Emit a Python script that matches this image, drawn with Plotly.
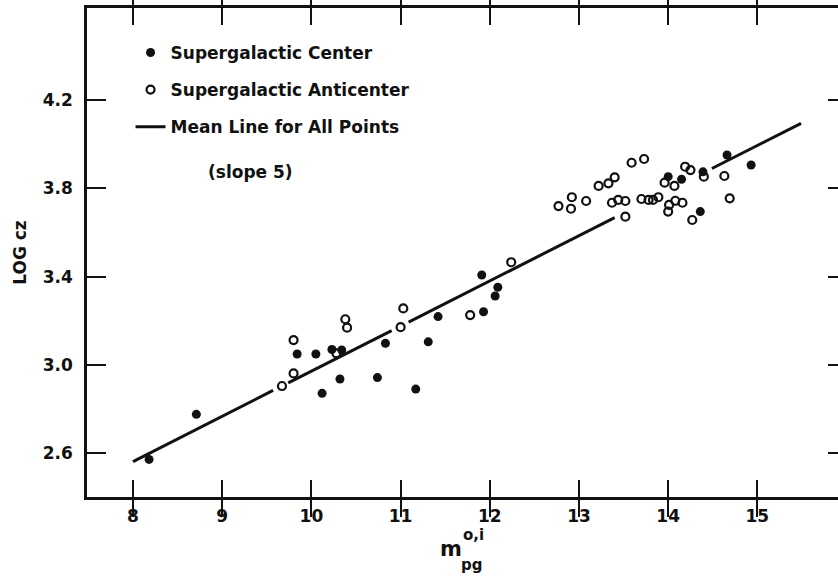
import plotly.graph_objects as go

# Supergalactic Center (filled)
center_m = [8.18, 8.71, 9.84, 10.05, 10.12, 10.23, 10.34, 10.32, 10.74, 10.83,
            11.17, 11.31, 11.42, 11.93, 11.91, 12.09, 12.06, 14.00, 14.15, 14.36,
            14.39, 14.66, 14.93]
center_logcz = [2.573, 2.777, 3.050, 3.050, 2.872, 3.070, 3.068, 2.937, 2.943, 3.098,
                2.891, 3.105, 3.219, 3.241, 3.407, 3.352, 3.312, 3.852, 3.840, 3.694,
                3.874, 3.950, 3.905]

# Supergalactic Anticenter (open)
anti_m = [9.67, 9.80, 9.80, 10.28, 10.38, 10.40, 11.03, 11.00, 11.78, 12.24,
          12.77, 12.92, 12.91, 13.08, 13.22, 13.33, 13.40, 13.37, 13.44, 13.52,
          13.52, 13.59, 13.73, 13.70, 13.78, 13.83, 13.89, 13.96, 14.07, 14.19,
          14.25, 14.01, 14.00, 14.08, 14.16, 14.27, 14.40, 14.63, 14.69]
anti_logcz = [2.905, 2.962, 3.113, 3.053, 3.207, 3.169, 3.256, 3.171, 3.226, 3.465,
              3.719, 3.759, 3.707, 3.742, 3.810, 3.822, 3.849, 3.734, 3.747, 3.742,
              3.671, 3.915, 3.932, 3.751, 3.747, 3.747, 3.759, 3.825, 3.810, 3.897,
              3.882, 3.724, 3.694, 3.743, 3.734, 3.656, 3.852, 3.855, 3.754]

# Mean line for all points (slope 5), drawn in broken segments
line_m = [8.00, 9.57, None, 9.74, 10.90, None, 11.09, 13.40, None, 14.49, 15.49]
line_logcz = [2.563, 2.885, None, 2.919, 3.156, None, 3.194, 3.667, None, 3.889, 4.093]

x_ticks = [8, 9, 10, 11, 12, 13, 14, 15]
y_ticks = [2.6, 3.0, 3.4, 3.8, 4.2]
y_tick_text = ["2.6", "3.0", "3.4", "3.8", "4.2"]

INK = "#111111"
FONT = "DejaVu Sans"
x_range = [7.484, 15.904]
y_range = [2.403, 4.615]

def f(size, weight="bold"):
    return dict(family=FONT, size=size, color=INK, weight=weight)

fig = go.Figure()
fig.add_trace(go.Scatter(
    x=center_m, y=center_logcz, mode="markers", name="Supergalactic Center",
    legendgroup="a",
    marker=dict(symbol="circle", size=9, color=INK, line=dict(width=0)),
))
fig.add_trace(go.Scatter(
    x=anti_m, y=anti_logcz, mode="markers", name="Supergalactic Anticenter",
    legendgroup="b",
    marker=dict(symbol="circle-open", size=8, color=INK, line=dict(width=2.2, color=INK)),
))
fig.add_trace(go.Scatter(
    x=line_m, y=line_logcz, mode="lines", name="Mean Line for All Points",
    legendgroup="c", connectgaps=False, yaxis="y2",
    line=dict(color=INK, width=3),
))

fig.update_layout(
    width=838, height=576,
    margin=dict(l=87, r=0, t=8, b=79),
    paper_bgcolor="white", plot_bgcolor="white",
    font=f(17),
    showlegend=True,
    legend=dict(
        x=0.058, y=0.945, xanchor="left", yanchor="top",
        bgcolor="rgba(0,0,0,0)", borderwidth=0,
        traceorder="grouped", tracegroupgap=12,
        font=f(17),
        itemwidth=30,
    ),
    xaxis=dict(
        range=x_range, tickvals=x_ticks, ticktext=[str(v) for v in x_ticks],
        ticks="inside", ticklen=17, tickwidth=2, tickcolor=INK,
        showline=True, linewidth=2.5, linecolor=INK, mirror="allticks",
        showgrid=False, zeroline=False, ticklabelstandoff=2,
        tickfont=f(17),
    ),
    yaxis=dict(
        range=y_range, tickvals=y_ticks, ticktext=y_tick_text,
        ticks="inside", ticklen=19, tickwidth=2, tickcolor=INK,
        showline=True, linewidth=2.5, linecolor=INK, mirror=False,
        showgrid=False, zeroline=False, ticklabelstandoff=8,
        tickfont=f(17),
        title=dict(text="LOG cz", font=f(17), standoff=12),
    ),
    yaxis2=dict(
        range=y_range, tickvals=y_ticks, overlaying="y", side="right",
        ticks="inside", ticklen=10, tickwidth=2, tickcolor=INK,
        showline=False, showticklabels=False, showgrid=False, zeroline=False,
    ),
)

# (slope 5) note under the legend
fig.add_annotation(
    text="(slope 5)", xref="paper", yref="paper", x=(206 - 87) / 751, y=1 - (172 - 8) / 489,
    xanchor="left", yanchor="middle", showarrow=False, font=f(17),
)

# x-axis title m^{o,i}_{pg}
fig.add_annotation(text="m", xref="x", yref="paper", x=11.57, y=-(549 - 497) / 489,
                   xanchor="center", yanchor="middle", showarrow=False, font=f(21))
fig.add_annotation(text="o,i", xref="x", yref="paper", x=11.82, y=-(535 - 497) / 489,
                   xanchor="center", yanchor="middle", showarrow=False, font=f(15))
fig.add_annotation(text="pg", xref="x", yref="paper", x=11.80, y=-(565 - 497) / 489,
                   xanchor="center", yanchor="middle", showarrow=False, font=f(15))

fig.write_html("out.html")
